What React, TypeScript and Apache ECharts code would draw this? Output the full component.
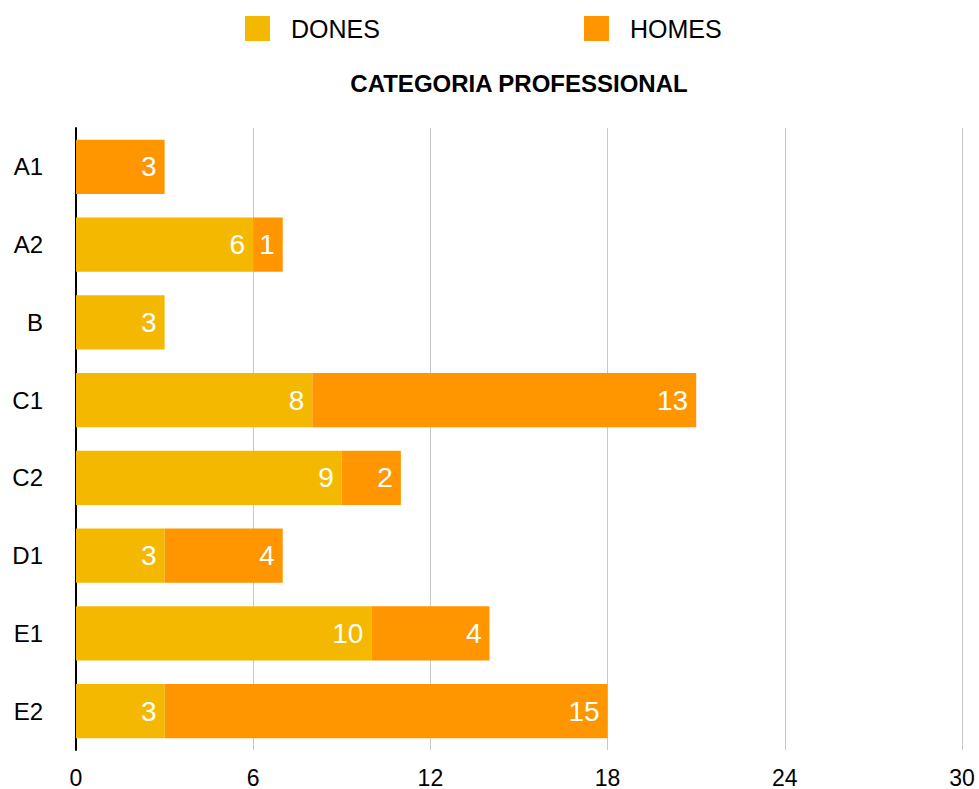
import React, { useEffect, useRef } from "react";
import * as echarts from "echarts";

const categories = ["A1", "A2", "B", "C1", "C2", "D1", "E1", "E2"];
const dones: (number | null)[] = [null, 6, 3, 8, 9, 3, 10, 3];
const homes: (number | null)[] = [3, 1, null, 13, 2, 4, 4, 15];
const xTicks = { min: 0, max: 30, interval: 6 };
const titleText = "CATEGORIA PROFESSIONAL";
const seriesNames = ["DONES", "HOMES"];
const colors = ["#F5B800", "#FF9600"];

const FONT = "'Liberation Sans', Arial, Helvetica, sans-serif";

export default function App() {
  const ref = useRef<HTMLDivElement>(null);
  useEffect(() => {
    if (!ref.current) return;
    const chart = echarts.init(ref.current, null, { renderer: "svg" });
    const label = {
      show: true,
      position: "insideRight" as const,
      distance: 8,
      color: "#fff",
      fontSize: 28,
      fontFamily: FONT,
    };
    const legendText = { fontSize: 25, color: "#000", padding: [0, 0, 0, 16], fontFamily: FONT };
    chart.setOption({
      animation: false,
      textStyle: { fontFamily: FONT },
      title: {
        text: titleText,
        left: 519,
        textAlign: "center",
        top: 71,
        padding: 0,
        textStyle: { fontSize: 24, fontWeight: "bold", color: "#000", fontFamily: FONT },
      },
      legend: [
        {
          data: [seriesNames[0]],
          left: 245,
          top: 16,
          padding: 0,
          icon: "rect",
          itemWidth: 25,
          itemHeight: 25,
          textStyle: legendText,
        },
        {
          data: [seriesNames[1]],
          left: 584,
          top: 16,
          padding: 0,
          icon: "rect",
          itemWidth: 25,
          itemHeight: 25,
          textStyle: legendText,
        },
      ],
      grid: { left: 76, right: 17, top: 128, bottom: 39, containLabel: false },
      xAxis: {
        type: "value",
        min: xTicks.min,
        max: xTicks.max,
        interval: xTicks.interval,
        axisLine: { show: false },
        axisTick: { show: false },
        axisLabel: { fontSize: 23, color: "#000", margin: 16, fontFamily: FONT },
        splitLine: { show: true, lineStyle: { color: "#c8c8c8", width: 1 } },
      },
      yAxis: {
        type: "category",
        data: categories,
        inverse: true,
        axisLine: { show: true, lineStyle: { color: "#000", width: 2 } },
        axisTick: { show: false },
        axisLabel: { fontSize: 24, color: "#000", margin: 33, fontFamily: FONT },
        splitLine: { show: false },
      },
      series: [
        {
          name: seriesNames[0],
          type: "bar",
          stack: "total",
          data: dones,
          itemStyle: { color: colors[0] },
          barCategoryGap: "30%",
          label,
        },
        {
          name: seriesNames[1],
          type: "bar",
          stack: "total",
          data: homes,
          itemStyle: { color: colors[1] },
          barCategoryGap: "30%",
          label,
        },
      ],
    });
    return () => chart.dispose();
  }, []);
  return <div ref={ref} style={{ width: 979, height: 789, position: "absolute", left: 0, top: 0 }} />;
}
